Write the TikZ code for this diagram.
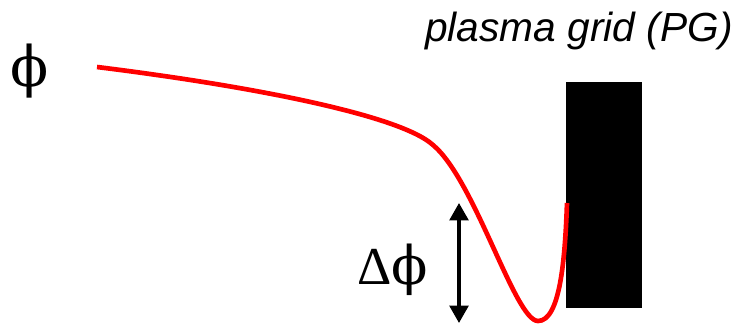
\documentclass[tikz,border=0pt]{standalone}
\usepackage{fontspec}
\setmainfont{Liberation Serif}
\setsansfont{Liberation Sans}
\newfontfamily\phifont{DejaVu Serif}
\usetikzlibrary{arrows.meta}

\begin{document}
\begin{tikzpicture}[x=0.75pt, y=-0.75pt]
  \useasboundingbox (0,0) rectangle (756,324);
  % Grid
  \coordinate (PGa) at (566,82);
  \coordinate (PGb) at (642,308);
  \fill[black] (PGa) rectangle (PGb);
  \node[font=\sffamily\itshape\fontsize{30.5}{34}\selectfont, anchor=base] (PGlab) at (579,42) {plasma grid (PG)};

  % Potential
  \node[font=\fontsize{42}{46}\selectfont] (phi) at (30,71) {\phifont ϕ};
  \coordinate (p0) at (97,67);
  \coordinate (p1) at (433,145);
  \coordinate (p2) at (538,321);
  \coordinate (p3) at (567,203);
  \draw[red, line width=3.5pt]
    (p0) .. controls (250,86) and (400,115) .. (p1)
         .. controls (475,180) and (515,321) .. (p2)
         .. controls (560,321) and (565,260) .. (p3);

  % Drop
  \coordinate (top) at (459,203);
  \coordinate (bot) at (459,323);
  \draw[line width=2.6pt, {Triangle[width=14pt,length=13pt]}-{Triangle[width=14pt,length=13pt]}] (top) -- (bot);
  \node[font=\fontsize{40}{44}\selectfont] (dphi) at (393,270) {Δ\phifont ϕ};
\end{tikzpicture}
\end{document}
